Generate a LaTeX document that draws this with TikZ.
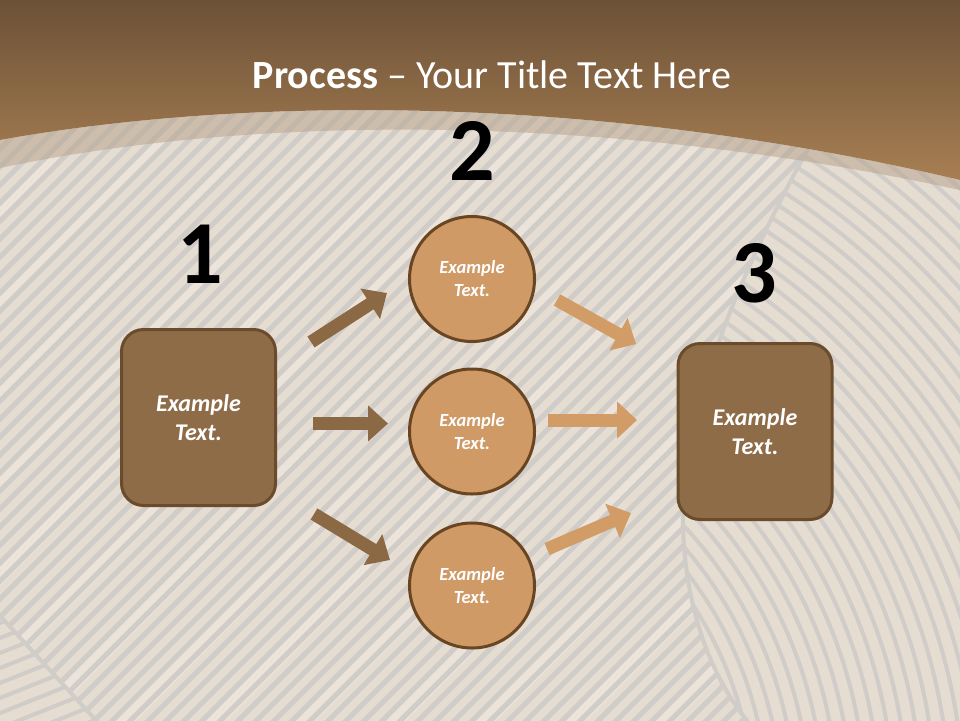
\documentclass[tikz,border=0pt]{standalone}
\usepackage{fontspec}
\setmainfont{Carlito}
\usetikzlibrary{arrows.meta}
\definecolor{woodbase}{HTML}{E5DCD2}
\definecolor{woodlight}{HTML}{EFE7DE}
\definecolor{stripecol}{HTML}{D0CCC8}
\definecolor{bandtop}{HTML}{6A5036}
\definecolor{bandbot}{HTML}{A87F53}
\definecolor{bandveil}{HTML}{B8A48F}
\definecolor{boxfill}{HTML}{8E6C48}
\definecolor{boxline}{HTML}{6A4C2C}
\definecolor{circfill}{HTML}{CF9A66}
\definecolor{circline}{HTML}{6A4522}
\definecolor{arrdark}{HTML}{8C6945}
\definecolor{arrlight}{HTML}{D19C66}
\begin{document}
\begin{tikzpicture}[x=1pt,y=-1pt,
  boxnode/.style={draw=boxline,line width=3pt,fill=boxfill,rounded corners=22pt,
    minimum width=154pt,minimum height=176pt,text=white,
    font=\fontsize{24}{29}\selectfont\bfseries\itshape,align=center},
  circnode/.style={circle,draw=circline,line width=3pt,fill=circfill,
    minimum size=125pt,inner sep=0pt,text=white,
    font=\fontsize{18.5}{23}\selectfont\bfseries\itshape,align=center},
  numlabel/.style={font=\fontsize{90}{90}\selectfont\bfseries,text=black,inner sep=0pt},
  darrow/.style={draw=arrdark,line width=13pt,-{Triangle[length=20pt,width=35pt]}},
  larrow/.style={draw=arrlight,line width=13pt,-{Triangle[length=20pt,width=36pt]}},
  stripe/.style={draw=stripecol,line width=5pt},
  thinstripe/.style={draw=stripecol,line width=4pt},
]
\useasboundingbox (0,0) rectangle (960,720);
% wood background
\fill[woodbase] (-5,-5) rectangle (965,725);
\begin{scope}
  \clip (-5,-5) rectangle (965,725);
  \foreach \i in {-700,-610,...,960} \fill[woodlight,opacity=0.7] (\i,725) -- ++(725,-730) -- ++(22,0) -- ++(-725,730) -- cycle;
  \foreach \i in {-720,-702,...,960} \draw[stripe] (\i,725) -- ++(730,-730);
\end{scope}
% right fan region
\begin{scope}
  \clip (830,110) .. controls (760,230) and (690,380) .. (683,500)
        .. controls (680,600) and (710,680) .. (755,730) -- (970,730) -- (970,110) -- cycle;
  \fill[woodbase] (600,100) rectangle (970,730);
  \foreach \r in {360,374,...,920} \draw[thinstripe] (380,810) circle[radius=\r];
\end{scope}
\draw[thinstripe] (830,110) .. controls (760,230) and (690,380) .. (683,500)
        .. controls (680,600) and (710,680) .. (755,730);
% lower-left region
\begin{scope}
  \clip (-10,605) -- (105,730) -- (-10,730) -- cycle;
  \fill[woodbase] (-10,600) rectangle (110,730);
  \foreach \j in {560,575,...,800} \draw[thinstripe] (120,\j) -- ++(-200,80);
\end{scope}
\draw[thinstripe] (-10,605) -- (105,730);
% top band
\shade[top color=bandtop,bottom color=bandbot]
  (-5,-5) -- (965,-5) -- (965,181) -- (960,180) .. controls (600,95) and (250,95) .. (0,140) -- (-5,141) -- cycle;
\fill[bandveil,opacity=0.55]
  (0,140) .. controls (250,95) and (600,95) .. (960,180) -- (960,190)
  .. controls (600,112) and (250,115) .. (0,168) -- cycle;
% title
\node[text=white,font=\fontsize{40}{44}\selectfont] (title) at (492,75)
  {\textbf{Process} – Your Title Text Here};
% numbers
\node[numlabel] (n1) at (200,254) {1};
\node[numlabel] (n2) at (472,151) {2};
\node[numlabel] (n3) at (754,273) {3};
% boxes and circles
\node[boxnode] (b1) at (198.5,417.5) {Example\\Text.};
\node[boxnode] (b3) at (755,431.5) {Example\\Text.};
\node[circnode] (c1) at (472,279) {Example\\Text.};
\node[circnode] (c2) at (472,431.5) {Example\\Text.};
\node[circnode] (c3) at (472,585.5) {Example\\Text.};
% arrows
\coordinate (a1s) at (311,342); \coordinate (a1e) at (387,293);
\coordinate (a2s) at (313,423.5); \coordinate (a2e) at (388,423.5);
\coordinate (a3s) at (314,514); \coordinate (a3e) at (390,560);
\coordinate (a4s) at (557,300); \coordinate (a4e) at (636,344);
\coordinate (a5s) at (548,420); \coordinate (a5e) at (637,420);
\coordinate (a6s) at (547,549); \coordinate (a6e) at (631,513);
\draw[darrow] (a1s) -- (a1e);
\draw[darrow] (a2s) -- (a2e);
\draw[darrow] (a3s) -- (a3e);
\draw[larrow] (a4s) -- (a4e);
\draw[larrow] (a5s) -- (a5e);
\draw[larrow] (a6s) -- (a6e);
\end{tikzpicture}
\end{document}
